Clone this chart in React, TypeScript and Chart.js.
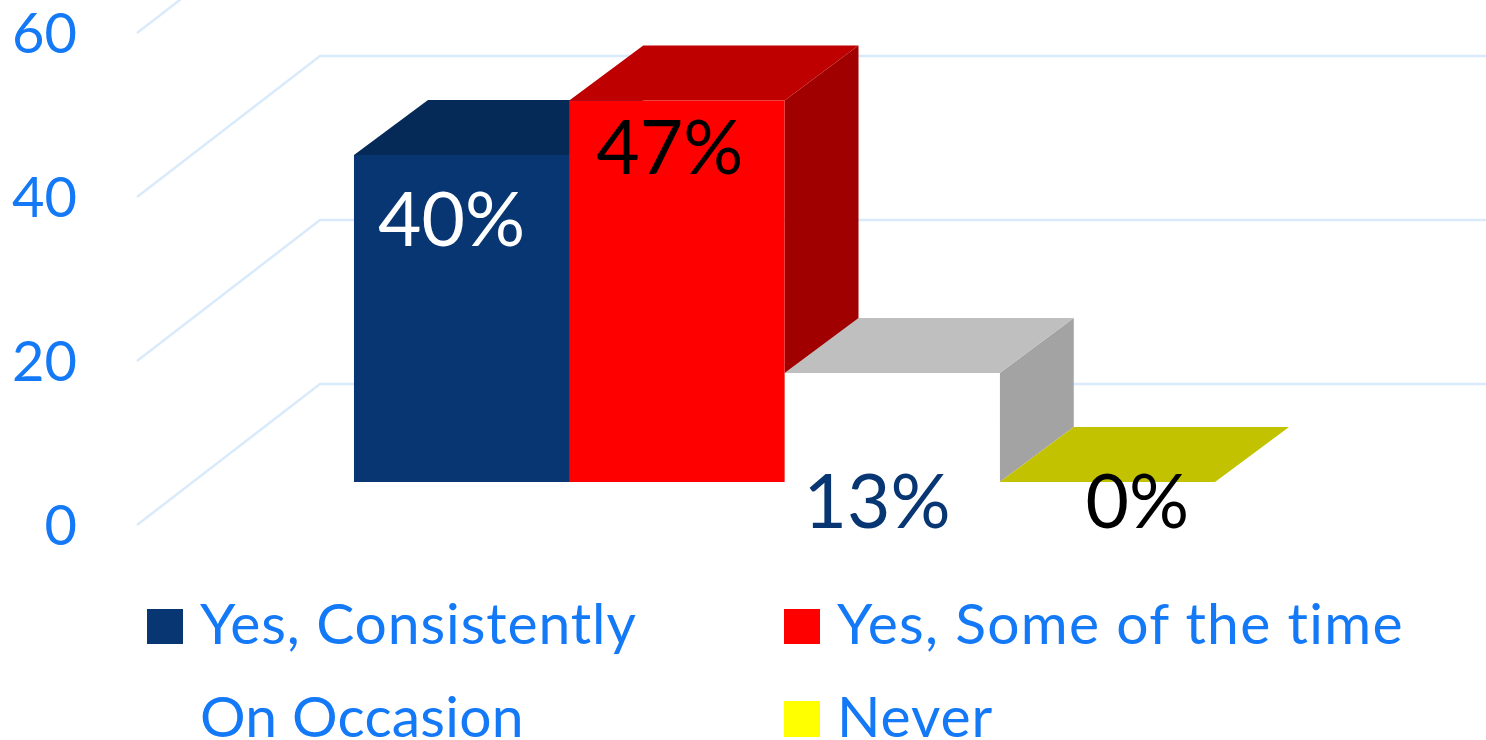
import React, { useEffect, useRef } from "react";
import { Chart, registerables } from "chart.js";

Chart.register(...registerables);

const categories = ["Responses"];
const seriesNames = ["Yes, Consistently", "Yes, Some of the time", "On Occasion", "Never"];
const seriesValues = [40, 46.67, 13.33, 0];
const tickValues = [0, 20, 40, 60];

const frontColors = ["#073673", "#ff0000", "#ffffff", "#ffff00"];
const topColors = ["#052a58", "#bf0000", "#bfbfbf", "#c2c200"];
const sideColors = ["#04244c", "#a00000", "#a3a3a3", "#a6a600"];
const labelColors = ["#ffffff", "#000000", "#073673", "#000000"];
const labelDx = [-10, -7, -15, 30];
const labelBaselineFromTop = [91, 74, 0, 0];
const labelBaselineBelowBase = [0, 0, 46, 46];
const legendSpacing = [0.9, 1.3, 0.2, 0.9];

const BLUE = "#1479f7";
const GRID = "#d9ebfb";
const FONT = "Lato, sans-serif";
const DEPTH_X = 74;
const DEPTH_Y = 55;
const WALL_X = 183;
const WALL_Y = 141;

const poly = (ctx: CanvasRenderingContext2D, pts: number[][], fill: string) => {
  ctx.beginPath();
  pts.forEach(([x, y], i) => (i ? ctx.lineTo(x, y) : ctx.moveTo(x, y)));
  ctx.closePath();
  ctx.fillStyle = fill;
  ctx.fill();
};

const box3d = {
  id: "box3d",
  beforeDatasetsDraw(chart: any) {
    const { ctx, chartArea, scales, width } = chart;
    ctx.save();
    // wall
    ctx.strokeStyle = GRID;
    ctx.lineWidth = 2.5;
    tickValues.forEach((v) => {
      const y = scales.y.getPixelForValue(v);
      const x = chartArea.left;
      ctx.beginPath();
      ctx.moveTo(x, y);
      ctx.lineTo(x + WALL_X, y - WALL_Y);
      ctx.lineTo(width, y - WALL_Y);
      ctx.stroke();
    });
    // extruded faces
    chart.data.datasets.forEach((_: any, i: number) => {
      const bar = chart.getDatasetMeta(i).data[0];
      const { x, y, base, width: w } = bar.getProps(["x", "y", "base", "width"], true);
      const l = x - w / 2;
      const r = x + w / 2;
      if (base - y > 0.5) {
        poly(ctx, [[r, y], [r + DEPTH_X, y - DEPTH_Y], [r + DEPTH_X, base - DEPTH_Y], [r, base]], sideColors[i]);
      }
      poly(ctx, [[l, y], [r, y], [r + DEPTH_X, y - DEPTH_Y], [l + DEPTH_X, y - DEPTH_Y]], topColors[i]);
    });
    ctx.restore();
  },
  afterDatasetsDraw(chart: any) {
    const { ctx } = chart;
    ctx.save();
    ctx.font = `75px ${FONT}`;
    ctx.textAlign = "center";
    ctx.textBaseline = "alphabetic";
    chart.data.datasets.forEach((ds: any, i: number) => {
      const bar = chart.getDatasetMeta(i).data[0];
      const { x, y, base } = bar.getProps(["x", "y", "base"], true);
      const ty = labelBaselineBelowBase[i] ? base + labelBaselineBelowBase[i] : y + labelBaselineFromTop[i];
      ctx.fillStyle = labelColors[i];
      ctx.fillText(`${Math.round(ds.data[0])}%`, x + labelDx[i], ty);
    });
    ctx.restore();
  },
};

export default function App() {
  const ref = useRef<HTMLCanvasElement>(null);
  useEffect(() => {
    document.body.style.margin = "0";
    document.body.style.overflow = "hidden";
    const chart = new Chart(ref.current!, {
      type: "bar",
      data: {
        labels: categories,
        datasets: seriesNames.map((name, i) => ({
          label: name,
          data: [seriesValues[i]],
          backgroundColor: frontColors[i],
          yAxisID: "bars",
          categoryPercentage: 0.6649,
          barPercentage: 1,
        })),
      },
      options: {
        animation: false,
        responsive: false,
        layout: { padding: { top: 33, bottom: 215, right: 54, left: 0 } },
        plugins: { legend: { display: false }, tooltip: { enabled: false } },
        scales: {
          x: { display: false },
          y: {
            position: "left",
            min: 0,
            max: 60,
            afterFit: (s: any) => {
              s.width = 137;
              s.paddingTop = 0;
              s.paddingBottom = 0;
            },
            ticks: {
              stepSize: 20,
              color: BLUE,
              padding: 60,
              labelOffset: 2,
              font: { family: "Lato", size: 56 },
            },
            grid: { display: false, drawTicks: false },
            border: { display: false },
          },
          bars: { display: false, min: -5.26, max: 54.92 },
        },
      },
      plugins: [box3d],
    } as any);
    return () => chart.destroy();
  }, []);

  const legendPos = [
    { sx: 147, tx: 200, sy: 609, h: 35, sw: 36, base: 606 },
    { sx: 784, tx: 837, sy: 609, h: 35, sw: 36, base: 606 },
    { sx: 147, tx: 200, sy: 701, h: 36, sw: 36, base: 699 },
    { sx: 784, tx: 837, sy: 701, h: 36, sw: 36, base: 699 },
  ];

  return (
    <div style={{ position: "relative", width: 1486, height: 740, overflow: "hidden" }}>
      <canvas ref={ref} width={1486} height={740} style={{ display: "block" }} />
      {seriesNames.map((name, i) => {
        const p = legendPos[i];
        return (
          <React.Fragment key={name}>
            <span
              style={{
                position: "absolute",
                left: p.sx,
                top: p.sy,
                width: p.sw,
                height: p.h,
                background: frontColors[i],
              }}
            />
            <span
              style={{
                position: "absolute",
                left: p.tx,
                top: p.base - 14,
                lineHeight: "60px",
                fontFamily: FONT,
                fontSize: 57,
                letterSpacing: legendSpacing[i],
                color: BLUE,
                whiteSpace: "nowrap",
              }}
            >
              {name}
            </span>
          </React.Fragment>
        );
      })}
    </div>
  );
}
